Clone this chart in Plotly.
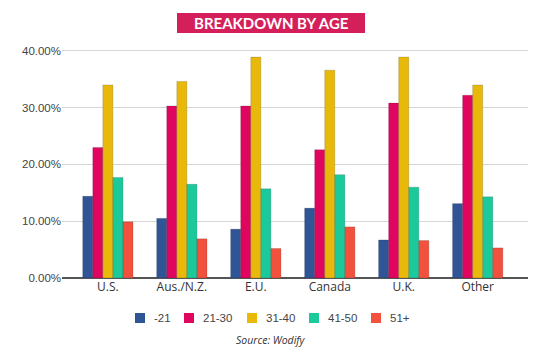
import plotly.graph_objects as go

categories = ["U.S.", "Aus./N.Z.", "E.U.", "Canada", "U.K.", "Other"]
series_names = ["-21", "21-30", "31-40", "41-50", "51+"]
v_u21 = [14.4, 10.5, 8.6, 12.3, 6.7, 13.1]
v_21_30 = [23.0, 30.3, 30.3, 22.6, 30.8, 32.2]
v_31_40 = [34.0, 34.6, 38.9, 36.6, 38.9, 34.0]
v_41_50 = [17.7, 16.5, 15.7, 18.2, 16.0, 14.3]
v_51p = [9.9, 6.9, 5.2, 9.0, 6.6, 5.3]
series_values = [v_u21, v_21_30, v_31_40, v_41_50, v_51p]
colors = ["#2F5597", "#E0065F", "#E8B90A", "#1CC99B", "#F2513E"]
y_ticks = [0, 10, 20, 30, 40]
y_tick_labels = ["0.00%", "10.00%", "20.00%", "30.00%", "40.00%"]

W, H = 540, 353
L, R, T, B = 62, 12, 48, 75
PW, PH = W - L - R, H - T - B


def px_x(x):
    return (x - L) / PW


def px_y(y):
    return (H - B - y) / PH


fig = go.Figure()
for name, vals, col in zip(series_names, series_values, colors):
    fig.add_trace(go.Bar(
        x=categories, y=vals, name=name,
        marker=dict(color=col, line=dict(color="rgba(0,0,0,0.25)", width=0.6)),
    ))

fig.update_layout(
    width=W, height=H,
    margin=dict(l=L, r=R, t=T, b=B),
    paper_bgcolor="white", plot_bgcolor="white",
    barmode="group", bargap=0.32, bargroupgap=0.0,
    font=dict(family="Liberation Sans, Arial, sans-serif", color="#444"),
    xaxis=dict(
        range=[-0.62, 5.68], showgrid=False, ticks="",
        tickfont=dict(family="Open Sans, sans-serif", size=12, color="#333"),
        showline=False,
    ),
    yaxis=dict(
        range=[0, 40.5], tickvals=y_ticks, ticktext=y_tick_labels,
        showgrid=True, gridcolor="#d6d6d6", gridwidth=1,
        zeroline=True, zerolinecolor="#555", zerolinewidth=1.5,
        tickfont=dict(family="Liberation Sans, Arial, sans-serif", size=11.5, color="#444"),
        ticks="", ticklen=0,
    ),
    showlegend=False,
)

# custom legend
legend_sq_x = [135, 184, 247, 309, 371]
for name, col, sx in zip(series_names, colors, legend_sq_x):
    fig.add_shape(type="rect", xref="paper", yref="paper",
                  x0=px_x(sx), x1=px_x(sx + 10), y0=px_y(323), y1=px_y(313),
                  fillcolor=col, line=dict(width=0))
    fig.add_annotation(text=name, xref="paper", yref="paper",
                       x=px_x(sx + 17), y=px_y(318), showarrow=False,
                       xanchor="left", yanchor="middle",
                       font=dict(family="Liberation Sans, Arial, sans-serif", size=11.5, color="#444"))

fig.add_shape(type="rect", xref="paper", yref="paper",
              x0=px_x(177), x1=px_x(365), y0=px_y(33), y1=px_y(13),
              fillcolor="#D51F5B", line=dict(width=0), layer="above")
fig.add_annotation(text="<b>BREAKDOWN BY AGE</b>", xref="paper", yref="paper",
                   x=px_x(271), y=px_y(23),
                   showarrow=False, xanchor="center", yanchor="middle",
                   font=dict(family="Lato, Open Sans, sans-serif", size=15, color="white"))
fig.add_annotation(text="<i>Source: Wodify</i>", xref="paper", yref="paper",
                   x=px_x(271), y=px_y(340),
                   showarrow=False, xanchor="center", yanchor="middle",
                   font=dict(family="Open Sans, sans-serif", size=10.5, color="#333"))

fig.write_html("out.html")
